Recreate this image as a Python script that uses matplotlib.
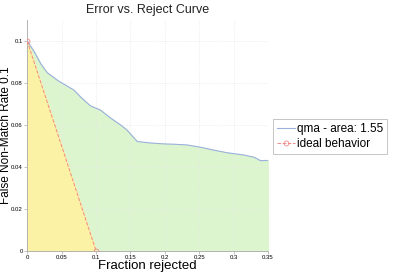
import matplotlib
matplotlib.use("Agg")
import matplotlib.pyplot as plt

plt.rcParams['font.family'] = ['Liberation Sans', 'DejaVu Sans']

# Datos
frac_rechazo = [0.0, 0.01, 0.02, 0.029, 0.045, 0.0677, 0.08, 0.092, 0.1066, 0.12, 0.1355, 0.145,
                0.16, 0.18, 0.198, 0.215, 0.232, 0.252, 0.27, 0.29, 0.3146, 0.33, 0.339, 0.35]
fnmr_qma = [0.1, 0.095, 0.089, 0.0849, 0.081, 0.0766, 0.0725, 0.069, 0.067, 0.0635, 0.06, 0.0575,
            0.052, 0.0513, 0.0509, 0.0507, 0.0504, 0.0493, 0.048, 0.0467, 0.0456, 0.0445, 0.0429, 0.043]
frac_ideal = [0.0, 0.1]
fnmr_ideal = [0.1, 0.0]
area_qma = 1.55

fig = plt.figure(figsize=(3.93, 2.73), dpi=100)
ax = fig.add_axes([0.069, 0.082, 0.613, 0.845])

ax.fill_between(frac_rechazo, fnmr_qma, 0, color="#dcf5cf", zorder=1)
ax.fill_between(frac_ideal, fnmr_ideal, 0, color="#fbf2a6", zorder=2)
ax.plot(frac_rechazo, fnmr_qma, color="#9bb0dd", lw=0.8, zorder=3,
        label=f"qma - area: {area_qma:.2f}")
ax.plot(frac_ideal, fnmr_ideal, color="#f08a8a", lw=0.7, ls="--", marker="o",
        ms=3.5, mfc="none", mew=0.6, zorder=4, label="ideal behavior")

ax.set_xlim(0, 0.35)
ax.set_ylim(0, 0.11)
ax.set_xticks([0, 0.05, 0.1, 0.15, 0.2, 0.25, 0.3, 0.35])
ax.set_xticklabels(["0", "0.05", "0.1", "0.15", "0.2", "0.25", "0.3", "0.35"])
ax.set_yticks([0, 0.02, 0.04, 0.06, 0.08, 0.1])
ax.set_yticklabels(["0", "0.02", "0.04", "0.06", "0.08", "0.1"])
ax.tick_params(labelsize=4.3, length=2, width=0.5, color="#aaaaaa", pad=1.2)
ax.grid(True, color="#e6e6e6", lw=0.6, ls=":")
for lado in ["top", "right"]:
    ax.spines[lado].set_visible(False)
for lado in ["left", "bottom"]:
    ax.spines[lado].set_color("#aaaaaa")
    ax.spines[lado].set_linewidth(0.6)

ax.set_title("Error vs. Reject Curve", fontsize=9, color="#222222", pad=5)
ax.set_xlabel("Fraction rejected", fontsize=9.5, labelpad=0)
fig.text(0.0, 0.505, "False Non-Match Rate 0.1", rotation=90, ha="left",
         va="center", fontsize=8.5)

leg = fig.legend(loc="upper left", bbox_to_anchor=(0.695, 0.565), fontsize=8.5,
                 frameon=True, fancybox=False, handlelength=1.5, handletextpad=0.15,
                 borderpad=0.35, labelspacing=0.25, borderaxespad=0)
leg.get_frame().set_edgecolor("#aaaaaa")
leg.get_frame().set_linewidth(0.6)

fig.savefig("out.png", dpi=100)
